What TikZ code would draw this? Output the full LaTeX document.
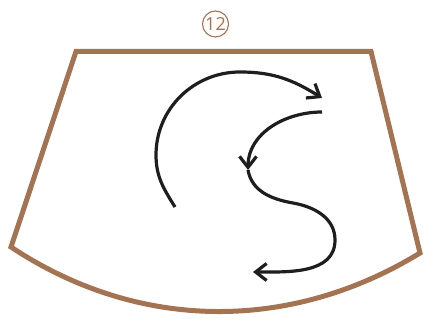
\documentclass[tikz,border=0pt]{standalone}
\usepackage{fontspec}
\setmainfont{Open Sans}
\usepackage{tikz}
\usetikzlibrary{arrows.meta}
\definecolor{brc}{HTML}{A47352}
\definecolor{inkc}{HTML}{1E1E1E}
\tikzset{
  ar/.style={-{Straight Barb[length=11pt,width=17pt,line width=3.2pt]},line width=3.2pt,inkc},
  fr/.style={line width=5pt,brc,line join=miter},
  nm/.style={circle,draw=brc,line width=1.1pt,minimum size=26pt,inner sep=0pt,text=brc,font=\fontsize{18}{18}\selectfont}
}
\begin{document}
\begin{tikzpicture}[x=1pt,y=1pt]
\useasboundingbox (0,0) rectangle (427,320);
\node[nm] (num) at (215.5,296) {12};
% frame
\draw[fr] (11,73)--(76,268.5)--(371,268.5)--(420,67) .. controls (291,-12) and (139,-12) .. (11,73)--cycle;
% arrows
\coordinate (a0) at (175,113);
\coordinate (a1) at (322,222);
\coordinate (b0) at (322,208);
\coordinate (b1) at (248,150);
\coordinate (c1) at (253,48);
\draw[ar] (a0) to[out=122,in=270] (156,165) to[out=90,in=180] (240,248) to[out=0,in=148] (a1);
\draw[ar] (b0) to[out=180,in=90] (b1);
\draw[ar] (b1) to[out=-80,in=170] (293,117) to[out=-10,in=90] (335,80) to[out=-90,in=0] (c1);
\end{tikzpicture}
\end{document}
